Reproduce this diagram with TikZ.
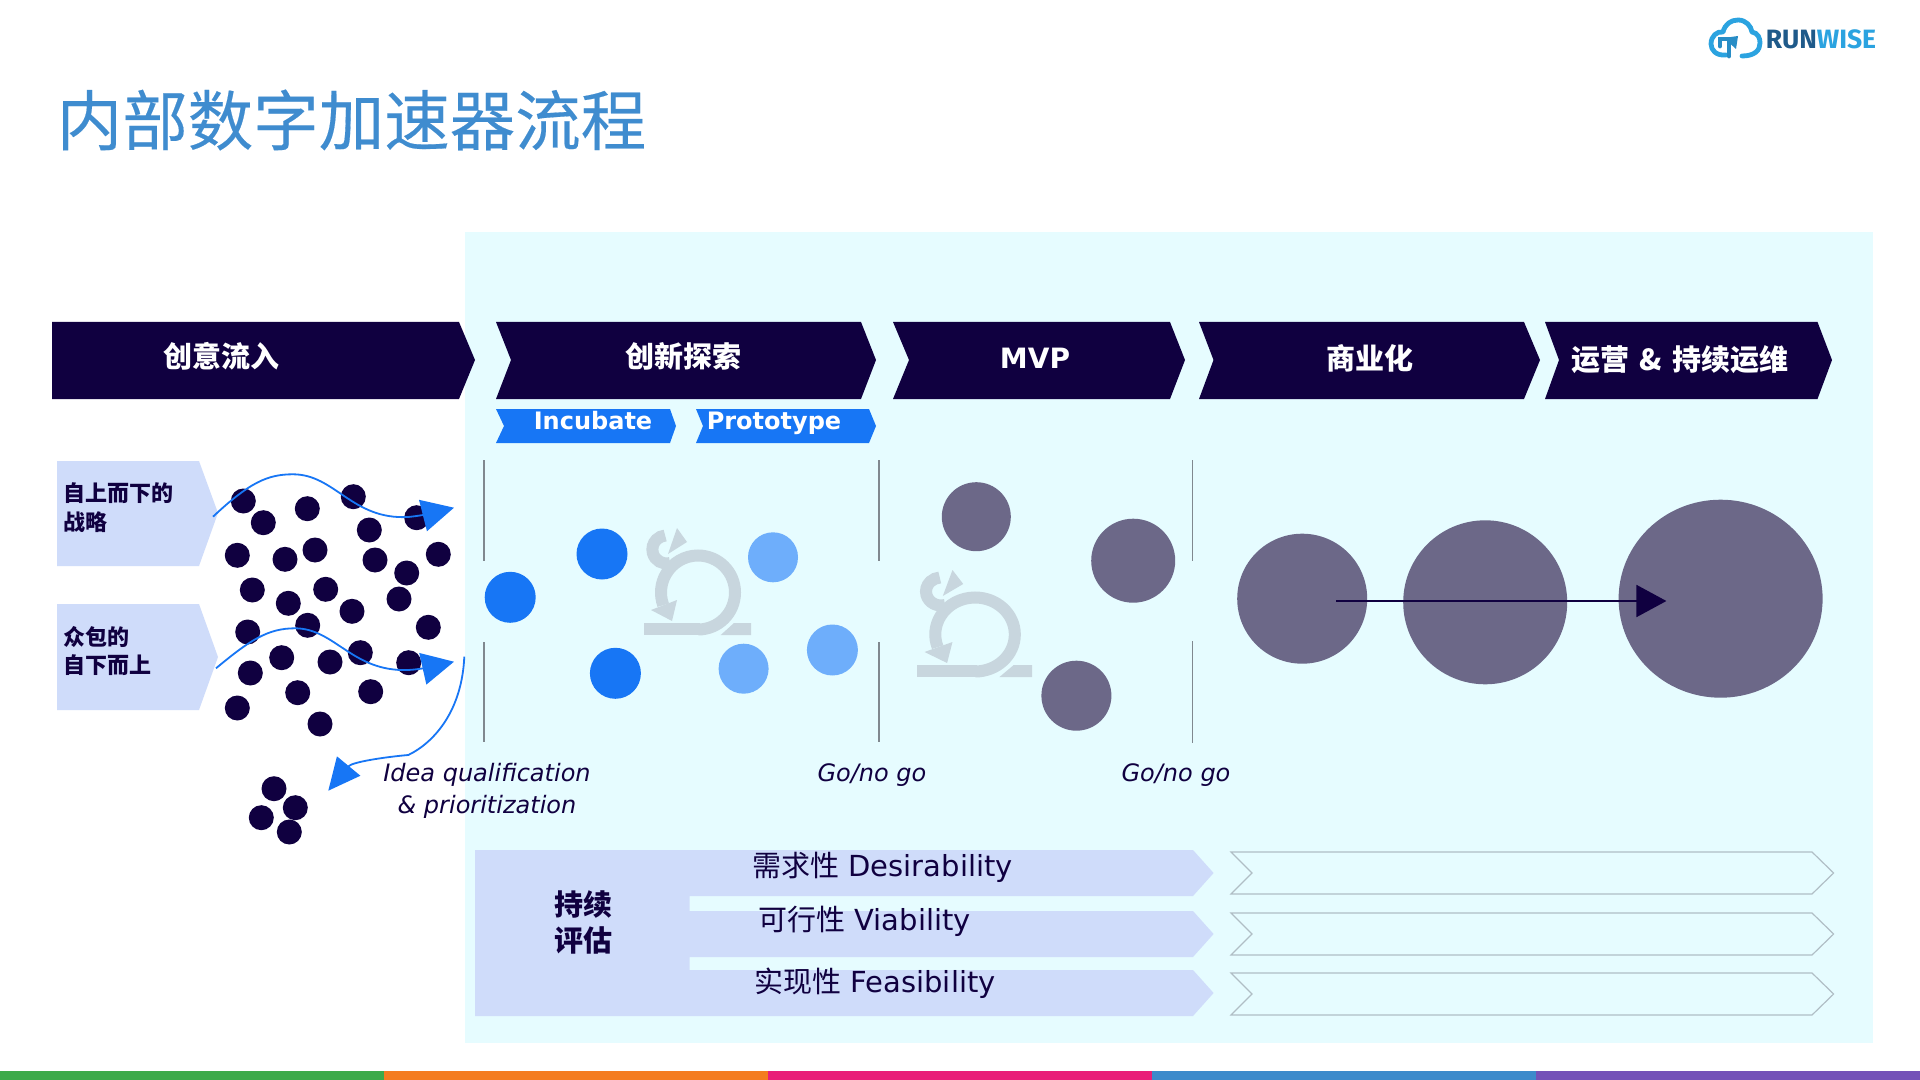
\documentclass[tikz,border=0pt]{standalone}
\usepackage{fontspec}
\usetikzlibrary{arrows.meta}
\setmainfont{DejaVu Sans}
\newfontfamily\cjk{Noto Sans CJK SC}
\newfontfamily\cjkt[FakeBold=0.25]{Noto Sans CJK SC}
\newfontfamily\logofont{Fira Sans}
\newcommand{\pxf}[1]{\fontsize{\fpeval{#1*0.5}}{\fpeval{#1*0.6}}\selectfont}
\definecolor{navy}{HTML}{100040}
\definecolor{vivid}{HTML}{1776F5}
\definecolor{softblue}{HTML}{6EAEFB}
\definecolor{pale}{HTML}{E6FCFF}
\definecolor{lav}{HTML}{CFDCFA}
\definecolor{mute}{HTML}{6C6888}
\definecolor{loopc}{HTML}{C8D6DE}
\definecolor{titlec}{HTML}{3F8CCF}
\definecolor{rulec}{HTML}{80888F}
\definecolor{edgec}{HTML}{B0BEC5}
\definecolor{stripa}{HTML}{3CAA4A}
\definecolor{stripb}{HTML}{F47C20}
\definecolor{stripc}{HTML}{E91E78}
\definecolor{stripd}{HTML}{3C8ACB}
\definecolor{stripe}{HTML}{7451B8}
\definecolor{logod}{HTML}{1F5A8A}
\definecolor{logol}{HTML}{2BA3E0}
\tikzset{
  headtext/.style={text=white,font=\cjk\bfseries\pxf{29},inner sep=0pt,anchor=center},
  subtext/.style={text=white,font=\bfseries\pxf{24},inner sep=0pt,anchor=base},
  sidetext/.style={text=navy,font=\cjk\bfseries\pxf{22},inner sep=0pt,anchor=west,align=left},
  evaltext/.style={text=navy,font=\pxf{29},inner sep=0pt,anchor=west},
  italtext/.style={text=navy,font=\itshape\pxf{24},inner sep=0pt,anchor=center,align=center},
  flow/.style={vivid,line width=.9pt,-{Triangle[length=16pt,width=16pt]}},
  gate/.style={rulec,line width=.7pt},
  outlinechev/.style={edgec,line width=.6pt,line join=miter},
  loopstroke/.style={loopc,line width=6pt}
}
\begin{document}
\begin{tikzpicture}[x=0.5pt,y=-0.5pt]
\useasboundingbox (0,0) rectangle (1920,1080);
\fill[white] (0,0) rectangle (1920,1080);
% panel
\fill[pale] (465,232) rectangle (1873,1043);
% colour strip
\fill[stripa] (0,1071) rectangle (384,1080);
\fill[stripb] (384,1071) rectangle (768,1080);
\fill[stripc] (768,1071) rectangle (1152,1080);
\fill[stripd] (1152,1071) rectangle (1536,1080);
\fill[stripe] (1536,1071) rectangle (1920,1080);
% title
\node[text=titlec,font=\cjkt\pxf{65.5},inner sep=0pt,anchor=center] (title) at (351.5,120) {内部数字加速器流程};
% logo
\draw[logol,line width=2.4pt,line cap=round,line join=round]
  (1726,55) .. controls (1716,56) and (1711,50) .. (1711,44)
  .. controls (1711,36) and (1717,31) .. (1723,32)
  .. controls (1725,24) and (1731,20) .. (1738,20)
  .. controls (1746,20) and (1751,26) .. (1752,32)
  .. controls (1758,33) and (1760,38) .. (1760,43)
  .. controls (1760,50) and (1755,56) .. (1742,56);
\draw[logol!70!logod,line width=2.4pt,line cap=round] (1729,56) -- (1729,42) (1720,46) -- (1720,39) -- (1730,39);
\fill[logol!70!logod] (1724,38) -- (1738,36) -- (1736,49) -- cycle;
\node[inner sep=0pt,anchor=center,font=\logofont\bfseries\pxf{26.5}] (logo) at (1821,39) {\textcolor{logod}{RUN}\textcolor{logol}{WISE}};
% head chevrons
\fill[navy] (52,322) -- (459,322) -- (475,360) -- (459,399) -- (52,399) -- cycle;
\fill[navy] (496,322) -- (861,322) -- (876,360) -- (861,399) -- (496,399) -- (511,360) -- cycle;
\fill[navy] (893,322) -- (1170,322) -- (1185,360) -- (1170,399) -- (893,399) -- (909,360) -- cycle;
\fill[navy] (1199,322) -- (1524,322) -- (1540,360) -- (1524,399) -- (1199,399) -- (1213.5,360) -- cycle;
\fill[navy] (1545,322) -- (1817.5,322) -- (1832,360) -- (1817.5,399) -- (1545,399) -- (1559,360) -- cycle;
\node[headtext] (h1) at (221,356) {创意流入};
\node[headtext] (h2) at (683,356) {创新探索};
\node[headtext,font=\bfseries\pxf{28}] (h3) at (1035,358) {MVP};
\node[headtext] (h4) at (1369.5,358) {商业化};
\node[headtext] (h5) at (1680,360) {运营\hspace{2pt} \& \hspace{2pt}持续运维};
% sub chevrons
\fill[vivid] (496,409) -- (670,409) -- (676,426) -- (670,443) -- (496,443) -- (504,426) -- cycle;
\fill[vivid] (696,409) -- (869,409) -- (876,426) -- (869,443) -- (696,443) -- (703,426) -- cycle;
\node[subtext] (inc) at (593,429) {Incubate};
\node[subtext] (pro) at (774,429) {Prototype};
% side pentagons
\fill[lav] (57,461) -- (199,461) -- (218,513) -- (199,566) -- (57,566) -- cycle;
\fill[lav] (57,604) -- (199,604) -- (218,657) -- (199,710) -- (57,710) -- cycle;
\node[sidetext] (top1) at (63,493) {自上而下的};
\node[sidetext] (top2) at (63,522) {战略};
\node[sidetext] (bot1) at (63,637) {众包的};
\node[sidetext] (bot2) at (63,665) {自下而上};
% dots
\foreach \px/\py in {243.3/501,263.3/522.7,307.3/508.7,353.3/496.7,369.3/530,237.3/555.3,285/559.3,315/550,375/560,406.7/573,438.3/554.3,252.3/590,288.3/603.3,325.7/589.3,352/611.3,399/599,247.7/632,307.7/625.3,428.3/627.3,360.3/652.7,408.7/662.7,250.3/673,281.7/657.7,330/662,297.7/692.7,370.7/691.7,237.3/708,320/724,416.7/517.7,274/788.7,295.3/807.7,261.3/817.7,289.3/832}
  \fill[navy] (\px,\py) circle[radius=12.5];
% flow curves
\coordinate (f1a) at (213,516.7);
\coordinate (f1b) at (293,474.3);
\coordinate (f1c) at (454,507.7);
\draw[flow] (f1a) .. controls (250,482) and (268,474.3) .. (f1b) .. controls (335,474.3) and (352,520) .. (408,517) .. controls (420,516) and (435,512.5) .. (f1c);
\coordinate (f2a) at (216,668.3);
\coordinate (f2b) at (295,628.3);
\coordinate (f2c) at (454,661.7);
\draw[flow] (f2a) .. controls (250,640) and (268,628.3) .. (f2b) .. controls (335,628.3) and (352,672) .. (408,670) .. controls (420,669.5) and (435,666) .. (f2c);
\coordinate (f3a) at (464.3,656.7);
\coordinate (f3b) at (408.3,755);
\coordinate (f3c) at (328.3,790.7);
\draw[flow,-{Triangle[length=16pt,width=15pt]}] (f3a) .. controls (462,710) and (435,742) .. (f3b) .. controls (385,757) and (352,762) .. (f3c);
% gates
\draw[gate] (484,460) -- (484,561) (484,642) -- (484,742);
\draw[gate] (879,460) -- (879,561) (879,642) -- (879,742);
\draw[gate] (1192.5,460) -- (1192.5,561) (1192.5,641) -- (1192.5,743);
% scrum loops
\foreach \sx/\sy/\sc in {644/623/1,917/665/1.075}{
\begin{scope}[shift={(\sx,\sy)},xscale=\sc]
  \fill[loopc] (0,0) rectangle (56,12);
  \fill[loopc] (76.7,12) -- (107,12) -- (107,0) -- (90,0) -- cycle;
  \draw[loopstroke] (54,6.5) arc[start angle=90,end angle=-200,radius=37];
  \fill[loopc] (7,-13) -- (33,-23) -- (28,-2) -- cycle;
  \draw[loopstroke] (26,-60) arc[start angle=75,end angle=265,radius=14];
  \fill[loopc] (33,-95) -- (43,-81) -- (24,-69) -- cycle;
\end{scope}}
% blue circles
\foreach \px/\py in {510.2/597.3,602/554,615.4/673.3}
  \fill[vivid] (\px,\py) circle[radius=25.5];
\foreach \px/\py/\pr in {773/557.3/25,743.6/668.7/25,832.4/650/25.5}
  \fill[softblue] (\px,\py) circle[radius=\pr];
% mute circles
\foreach \px/\py/\pr in {976.3/516.7/34.5,1133.2/560.7/42,1076.4/695.7/35,1302.2/598.7/65,1485.2/602.3/82}
  \fill[mute] (\px,\py) circle[radius=\pr];
\fill[mute] (1720.6,598.7) ellipse[x radius=102,y radius=99];
\coordinate (ga) at (1336,601);
\coordinate (gb) at (1666.4,601);
\draw[navy,line width=.9pt,-{Triangle[length=15pt,width=16pt]}] (ga) -- (gb);
% italics
\node[italtext] (idea) at (487,791) {Idea qualification\\[1.6pt]\& prioritization};
\node[italtext] (go1) at (872,775.5) {Go/no go};
\node[italtext] (go2) at (1176,775.5) {Go/no go};
% evaluation
\fill[lav] (475,850) -- (1193,850) -- (1213.6,873) -- (1193,896) -- (689.6,896) -- (689.6,911) -- (1193,911) -- (1213.6,934) -- (1193,957) -- (689.6,957) -- (689.6,970) -- (1193,970) -- (1213.6,993) -- (1193,1016) -- (475,1016) -- cycle;
\node[text=navy,font=\cjk\bfseries\pxf{29},inner sep=0pt] (e0a) at (583,904) {持续};
\node[text=navy,font=\cjk\bfseries\pxf{29},inner sep=0pt] (e0b) at (583,940) {评估};
\node[evaltext] (e1) at (752,867) {{\cjk 需求性} Desirability};
\node[evaltext] (e2) at (758,921) {{\cjk 可行性} Viability};
\node[evaltext] (e3) at (754,983) {{\cjk 实现性} Feasibility};
\foreach \py in {852,913,973}
  \draw[outlinechev] (1231,\py) -- (1812,\py) -- (1833.6,\py+21) -- (1812,\py+42) -- (1231,\py+42) -- (1252,\py+21) -- cycle;
\end{tikzpicture}
\end{document}
